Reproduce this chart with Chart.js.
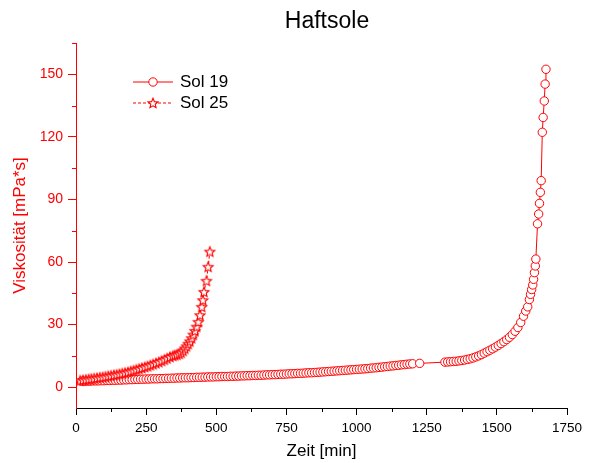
<!DOCTYPE html>
<html>
<head>
<meta charset="utf-8">
<title>Haftsole</title>
<script src="https://cdn.jsdelivr.net/npm/chart.js@4.4.0/dist/chart.umd.min.js"></script>
<style>
  html, body { margin: 0; padding: 0; background: #fff; }
  #chart { display: block; background: #fff; }
</style>
</head>
<body>
<canvas id="chart" width="601" height="463"></canvas>
<script>
// Sol 19: Zeit [min] / Viskosität [mPa*s]
var sol19Zeit = [
  20, 30, 40, 50, 60, 70, 80, 90, 100, 110, 120, 130, 140, 150, 160, 170, 180, 190, 200,
  210, 220, 230, 240, 250, 260, 270, 280, 290, 300, 310, 320, 330, 340, 350, 360, 370, 380,
  390, 400, 410, 420, 430, 440, 450, 460, 470, 480, 490, 500, 510, 520, 530, 540, 550, 560,
  570, 580, 590, 600, 610, 620, 630, 640, 650, 660, 670, 680, 690, 700, 710, 720, 730, 740,
  750, 760, 770, 780, 790, 800, 810, 820, 830, 840, 850, 860, 870, 880, 890, 900, 910, 920,
  930, 940, 950, 960, 970, 980, 990, 1000, 1010, 1020, 1030, 1040, 1050, 1060, 1070, 1080,
  1090, 1100, 1110, 1120, 1130, 1140, 1150, 1160, 1170, 1180, 1190, 1200, 1225,
  1315, 1325, 1335, 1345, 1355, 1365, 1375, 1385, 1395, 1405, 1415, 1425, 1435, 1445, 1455,
  1465, 1475, 1485, 1495, 1505, 1515, 1525, 1535, 1545, 1555, 1565, 1575, 1585, 1595, 1603,
  1610, 1616, 1620, 1624, 1628, 1631, 1634, 1637, 1639, 1645, 1649, 1652, 1655, 1658, 1662,
  1665, 1669, 1672, 1675
];
var sol19Visk = [
  2.8, 2.8, 2.9, 2.9, 3.0, 3.0, 3.0, 3.1, 3.1, 3.2, 3.2, 3.3, 3.3, 3.4, 3.4, 3.5, 3.5, 3.6, 3.6,
  3.7, 3.7, 3.8, 3.8, 3.9, 3.9, 4.0, 4.0, 4.0, 4.1, 4.1, 4.2, 4.2, 4.3, 4.3, 4.4, 4.4, 4.5,
  4.5, 4.5, 4.6, 4.6, 4.7, 4.7, 4.8, 4.8, 4.9, 4.9, 4.9, 5.0, 5.0, 5.1, 5.1, 5.1, 5.2, 5.2,
  5.3, 5.3, 5.4, 5.4, 5.5, 5.5, 5.6, 5.6, 5.7, 5.7, 5.8, 5.9, 5.9, 6.0, 6.0, 6.1, 6.2, 6.2,
  6.3, 6.4, 6.4, 6.5, 6.6, 6.6, 6.7, 6.8, 6.9, 6.9, 7.0, 7.1, 7.2, 7.3, 7.4, 7.5, 7.6, 7.7,
  7.8, 7.9, 8.0, 8.1, 8.2, 8.3, 8.4, 8.5, 8.6, 8.7, 8.8, 8.9, 9.1, 9.2, 9.3, 9.5,
  9.6, 9.8, 9.9, 10.1, 10.2, 10.4, 10.5, 10.7, 10.8, 11.0, 11.1, 11.2, 11.4,
  12.0, 12.1, 12.2, 12.3, 12.4, 12.6, 12.8, 13.0, 13.3, 13.6, 14.0, 14.5, 15.0, 15.6, 16.3,
  17.0, 17.7, 18.4, 19.2, 20.0, 20.9, 21.8, 22.8, 23.9, 25.2, 26.8, 28.6, 31.0, 34.0, 36.5,
  38.5, 42.0, 44.5, 46.8, 49.0, 51.7, 54.9, 58.1, 61.4, 78.3, 83.0, 88.1, 93.4, 99.0, 122.2,
  129.3, 137.2, 145.3, 152.4
];

// Sol 25
var sol25Zeit = [
  15, 25, 35, 45, 55, 65, 75, 85, 95, 105, 115, 125, 135, 145, 155, 165, 175, 185, 195, 205,
  215, 225, 235, 245, 255, 265, 275, 285, 295, 305, 315, 325, 335, 345, 352, 360, 368, 375,
  382, 388, 394, 400, 406, 412, 418, 424, 430, 436, 442, 448, 452, 456, 465, 471, 477
];
var sol25Visk = [
  3.2, 3.4, 3.6, 3.8, 4.0, 4.2, 4.4, 4.6, 4.8, 5.0, 5.3, 5.5, 5.8, 6.0, 6.3, 6.6, 6.9, 7.2, 7.6, 8.0,
  8.4, 8.8, 9.2, 9.6, 10.0, 10.5, 11.0, 11.5, 12.0, 12.6, 13.2, 13.8, 14.5, 15.0, 15.3, 15.6, 16.0, 16.6,
  17.5, 18.5, 19.6, 20.8, 22.0, 23.5, 25.2, 27.0, 29.0, 31.3, 34.5, 38.5, 41.7, 45.7, 51.0, 57.7, 65.0
];

var xTicks = [0, 250, 500, 750, 1000, 1250, 1500, 1750];
var xMinor = [125, 375, 625, 875, 1125, 1375, 1625];
var yTicks = [0, 30, 60, 90, 120, 150];
var yMinor = [15, 45, 75, 105, 135, 165];

var ROT = '#ff0000';
var FONT = 'Arial, "Liberation Sans", sans-serif';

function toPoints(xs, ys) {
  var pts = [];
  for (var i = 0; i < xs.length; i++) pts.push({x: xs[i], y: ys[i]});
  return pts;
}

// hollow five-pointed star marker
function makeStar(r) {
  var c = document.createElement('canvas');
  var s = Math.ceil(r * 2 + 3);
  c.width = s; c.height = s;
  var g = c.getContext('2d');
  g.beginPath();
  for (var i = 0; i < 10; i++) {
    var a = -Math.PI / 2 + i * Math.PI / 5;
    var rr = (i % 2 == 0) ? r : r * 0.45;
    g.lineTo(s / 2 + rr * Math.cos(a), s / 2 + 0.5 + rr * Math.sin(a));
  }
  g.closePath();
  g.fillStyle = '#fff';
  g.fill();
  g.strokeStyle = ROT;
  g.lineWidth = 1.1;
  g.stroke();
  return c;
}
var starImg = makeStar(5.2);

// title, minor ticks and the legend box
var extras = {
  id: 'extras',
  afterDraw: function(chart) {
    var ctx = chart.ctx;
    var area = chart.chartArea;
    var sx = chart.scales.x, sy = chart.scales.y;
    ctx.save();

    ctx.fillStyle = '#000';
    ctx.font = '23px ' + FONT;
    ctx.textAlign = 'center';
    ctx.textBaseline = 'middle';
    ctx.fillText('Haftsole', 327, 22);

    ctx.lineWidth = 1;
    ctx.strokeStyle = '#000';
    xMinor.forEach(function(v) {
      var px = Math.round(sx.getPixelForValue(v)) + 0.5;
      ctx.beginPath();
      ctx.moveTo(px, area.bottom);
      ctx.lineTo(px, area.bottom + 4);
      ctx.stroke();
    });
    ctx.strokeStyle = ROT;
    yMinor.forEach(function(v) {
      var py = Math.round(sy.getPixelForValue(v)) + 0.5;
      ctx.beginPath();
      ctx.moveTo(area.left - 4, py);
      ctx.lineTo(area.left, py);
      ctx.stroke();
    });

    // legend
    var lx = area.left + 57, ly = 82;
    ctx.strokeStyle = ROT;
    ctx.beginPath();
    ctx.moveTo(lx, ly); ctx.lineTo(lx + 40, ly);
    ctx.stroke();
    ctx.fillStyle = '#fff';
    Chart.helpers.drawPoint(ctx, {pointStyle: 'circle', radius: 4.2, borderWidth: 1}, lx + 20, ly);

    ctx.setLineDash([3, 2]);
    ctx.beginPath();
    ctx.moveTo(lx, ly + 21); ctx.lineTo(lx + 40, ly + 21);
    ctx.stroke();
    ctx.setLineDash([]);
    ctx.drawImage(starImg, lx + 20 - starImg.width / 2, ly + 21 - starImg.height / 2);

    ctx.fillStyle = '#000';
    ctx.font = '17px ' + FONT;
    ctx.textAlign = 'left';
    ctx.fillText('Sol 19', lx + 47, ly);
    ctx.fillText('Sol 25', lx + 47, ly + 21);
    ctx.restore();
  }
};

function plain(v) { return String(v); }

var chart = new Chart(document.getElementById('chart'), {
  type: 'scatter',
  data: {
    datasets: [{
      label: 'Sol 19',
      data: toPoints(sol19Zeit, sol19Visk),
      showLine: true,
      borderColor: ROT,
      borderWidth: 1,
      backgroundColor: '#fff',
      pointStyle: 'circle',
      pointRadius: 4.2,
      pointBorderWidth: 1,
      pointBorderColor: ROT,
      pointBackgroundColor: '#fff',
      order: 2
    }, {
      label: 'Sol 25',
      data: toPoints(sol25Zeit, sol25Visk),
      showLine: true,
      borderColor: ROT,
      borderWidth: 1,
      borderDash: [3, 2],
      pointStyle: starImg,
      pointRadius: 5,
      order: 1
    }]
  },
  options: {
    responsive: false,
    animation: false,
    events: [],
    layout: { padding: { top: 43, right: 34, left: 0, bottom: 0 } },
    plugins: {
      legend: { display: false },
      title: { display: false },
      tooltip: { enabled: false }
    },
    scales: {
      x: {
        type: 'linear',
        min: 0,
        max: 1750,
        afterBuildTicks: function(s) { s.ticks = xTicks.map(function(v) { return {value: v}; }); },
        afterFit: function(s) { s.height = 55; },
        border: { display: true, color: '#000', width: 1 },
        grid: { display: true, drawOnChartArea: false, color: '#000', tickLength: 7 },
        ticks: { color: '#000', padding: 5, maxRotation: 0, callback: plain, font: { family: FONT, size: 13.5 } },
        title: { display: true, text: 'Zeit [min]', color: '#000', padding: { top: 0, bottom: 1 }, font: { family: FONT, size: 17 } }
      },
      y: {
        type: 'linear',
        min: -10,
        max: 165,
        afterBuildTicks: function(s) { s.ticks = yTicks.map(function(v) { return {value: v}; }); },
        afterFit: function(s) { s.width = 76; },
        border: { display: true, color: ROT, width: 1 },
        grid: { display: true, drawOnChartArea: false, color: ROT, tickLength: 8 },
        ticks: { color: ROT, padding: 5, callback: plain, font: { family: FONT, size: 14 } },
        title: { display: true, text: 'Viskosität [mPa*s]', color: ROT, padding: { top: 10, bottom: 0 }, font: { family: FONT, size: 17 } }
      }
    }
  },
  plugins: [extras]
});
</script>
</body>
</html>
